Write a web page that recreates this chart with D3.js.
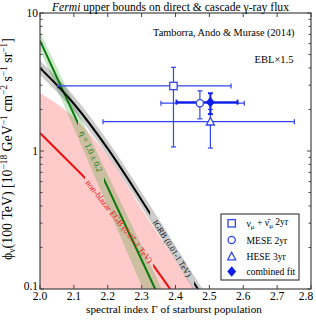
<!DOCTYPE html>
<html><head><meta charset="utf-8">
<script src="https://cdn.jsdelivr.net/npm/d3@7"></script>
<style>body{margin:0;background:#fff}svg{display:block}text{font-family:"Liberation Serif","Times New Roman",serif}</style>
</head><body><svg id="c" width="316" height="320"></svg>
<script>
// ---- data ----
const xTicks = [2.0, 2.1, 2.2, 2.3, 2.4, 2.5, 2.6, 2.7, 2.8];
const xTickLabels = ["2.0","2.1","2.2","2.3","2.4","2.5","2.6","2.7","2.8"];
const yTicks = [0.1, 1, 10];
const yTickLabels = ["0.1", "1", "10"];

const igrbGamma = [2.0, 2.1, 2.2, 2.3, 2.4, 2.466, 2.5];
const igrbFlux  = [4.0, 2.2, 1.04, 0.44, 0.18, 0.1, 0.075];
const igrbHi    = [4.5, 2.5, 1.18, 0.50, 0.205, 0.113, 0.085];
const igrbLo    = [3.55, 1.95, 0.92, 0.39, 0.16, 0.088, 0.066];

const etaGamma = [2.0, 2.17, 2.34, 2.38];
const etaFlux  = [6.3, 0.78, 0.1, 0.061];
const etaHi    = [7.3, 0.96, 0.127, 0.078];
const etaLo    = [5.4, 0.585, 0.063, 0.038];

const egbGamma = [2.0, 2.08, 2.133, 2.25, 2.334, 2.384, 2.42];
const egbFlux  = [1.35, 0.86, 0.637, 0.29, 0.149, 0.1, 0.074];

const pinkGamma = [2.0, 2.1, 2.2, 2.3, 2.4, 2.455, 2.5];
const pinkHi    = [2.63, 1.75, 0.92, 0.38, 0.16, 0.1, 0.07];

const pointNames    = ["numu", "MESE", "HESE", "combined"];
const pointGamma    = [2.394, 2.472, 2.503, 2.503];
const pointGammaLo  = [2.052, 2.357, 2.186, 2.403];
const pointGammaHi  = [2.564, 2.603, 2.751, 2.583];
const pointFlux     = [2.96, 2.22, 1.63, 2.26];
const pointFluxLo   = [1.07, 1.71, 1.05, 1.85];
const pointFluxHi   = [4.04, 2.73, 2.0, 2.62];

// ---- layout ----
const L = 40, R = 311, T = 13, B = 289;
const svg = d3.select("#c");
const x = d3.scaleLinear().domain([2.0, 2.8]).range([L, R]);
const y = d3.scaleLog().domain([0.1, 10]).range([B, T]);

const defs = svg.append("defs");
defs.append("clipPath").attr("id","plot").append("rect").attr("x",L).attr("y",T).attr("width",R-L).attr("height",B-T);
function gapClip(id, g0, g1){
  const cp = defs.append("clipPath").attr("id", id);
  cp.append("rect").attr("x",L).attr("y",T).attr("width",x(g0)-L).attr("height",B-T);
  cp.append("rect").attr("x",x(g1)).attr("y",T).attr("width",R-x(g1)).attr("height",B-T);
}
gapClip("gapEgb", 2.133, 2.334);
gapClip("gapEta", 2.112, 2.189);
gapClip("gapIgrb", 2.325, 2.455);

const P = svg.append("g").attr("clip-path","url(#plot)");
const curve = d3.curveMonotoneX;

// pink region
P.append("path")
 .datum(pinkGamma.map((g,i)=>[g,pinkHi[i]]))
 .attr("d", d3.area().x(d=>x(d[0])).y0(B+5).y1(d=>y(d[1])).curve(curve))
 .attr("fill","#ffcaca");

// green band
P.append("path")
 .datum(etaGamma.map((g,i)=>[g,etaLo[i],etaHi[i]]))
 .attr("d", d3.area().x(d=>x(d[0])).y0(d=>y(d[1])).y1(d=>y(d[2])).curve(curve))
 .attr("fill","rgba(20,150,20,0.22)");

// gray band
P.append("path")
 .datum(igrbGamma.map((g,i)=>[g,igrbLo[i],igrbHi[i]]))
 .attr("d", d3.area().x(d=>x(d[0])).y0(d=>y(d[1])).y1(d=>y(d[2])).curve(curve))
 .attr("fill","rgba(0,0,0,0.2)");

const line = d3.line().x(d=>x(d[0])).y(d=>y(d[1])).curve(curve);
P.append("g").attr("clip-path","url(#gapEgb)").append("path")
 .datum(egbGamma.map((g,i)=>[g,egbFlux[i]])).attr("d",line)
 .attr("fill","none").attr("stroke","#ee1111").attr("stroke-width",2);
P.append("g").attr("clip-path","url(#gapEta)").append("path")
 .datum(etaGamma.map((g,i)=>[g,etaFlux[i]])).attr("d",line)
 .attr("fill","none").attr("stroke","#0a7a0a").attr("stroke-width",2);
P.append("g").attr("clip-path","url(#gapIgrb)").append("path")
 .datum(igrbGamma.map((g,i)=>[g,igrbFlux[i]])).attr("d",line)
 .attr("fill","none").attr("stroke","#000").attr("stroke-width",2);

// labels along lines
function lineLabel(txt, gs, fs, g0, g1, color, size, dy){
  const interp = g => { // log-linear between data points for label placement
    const i = Math.max(0, d3.bisectRight(gs, g)-1);
    const j = Math.min(gs.length-1, i+1);
    const t = (g-gs[i])/(gs[j]-gs[i]);
    return Math.exp(Math.log(fs[i])*(1-t)+Math.log(fs[j])*t);
  };
  const x0=x(g0), y0=y(interp(g0)), x1=x(g1), y1=y(interp(g1));
  const ang = Math.atan2(y1-y0, x1-x0)*180/Math.PI;
  svg.append("text").attr("transform",`translate(${(x0+x1)/2},${(y0+y1)/2}) rotate(${ang})`)
    .attr("text-anchor","middle").attr("dy",dy).attr("font-size",size).attr("fill",color).text(txt);
}
lineLabel("non-blazar EGB (0.05-1 TeV)", egbGamma, egbFlux, 2.133, 2.334, "#ee1111", 8.6, "0.33em");
lineLabel("η = 1.0 ± 0.2", etaGamma, etaFlux, 2.112, 2.189, "#0a7a0a", 8.6, "0.33em");
lineLabel("IGRB (0.01-1 TeV)", igrbGamma, igrbFlux, 2.325, 2.455, "#111", 8.4, "0.33em");

// data points
const blue = "#2f45f0";
const pts = svg.append("g");
pointNames.forEach((n,i)=>{
  const cx = x(pointGamma[i]), cy = y(pointFlux[i]);
  const w = n==="combined" ? 2 : 1.2;
  const col = n==="combined" ? "#1020e8" : blue;
  const cap = 2.5;
  const g = pts.append("g").attr("stroke",col).attr("stroke-width",w);
  g.append("line").attr("x1",x(pointGammaLo[i])).attr("x2",x(pointGammaHi[i])).attr("y1",cy).attr("y2",cy);
  g.append("line").attr("x1",cx).attr("x2",cx).attr("y1",y(pointFluxLo[i])).attr("y2",y(pointFluxHi[i]));
  [x(pointGammaLo[i]), x(pointGammaHi[i])].forEach(xx=>g.append("line").attr("x1",xx).attr("x2",xx).attr("y1",cy-cap).attr("y2",cy+cap));
  [y(pointFluxLo[i]), y(pointFluxHi[i])].forEach(yy=>g.append("line").attr("x1",cx-cap).attr("x2",cx+cap).attr("y1",yy).attr("y2",yy));
});
function marker(g, n, cx, cy){
  const s = g.append("g").attr("stroke",blue).attr("stroke-width",1.3);
  if(n==="numu") s.append("rect").attr("x",cx-3.7).attr("y",cy-3.7).attr("width",7.4).attr("height",7.4).attr("fill","#fff");
  if(n==="MESE") s.append("circle").attr("cx",cx).attr("cy",cy).attr("r",3.6).attr("fill","#fff");
  if(n==="HESE") s.append("path").attr("d",`M${cx},${cy-4.3}L${cx+4},${cy+3.3}L${cx-4},${cy+3.3}Z`).attr("fill","#fff");
  if(n==="combined") s.append("path").attr("d",`M${cx},${cy-4.3}L${cx+3.6},${cy}L${cx},${cy+4.3}L${cx-3.6},${cy}Z`).attr("fill","#1020e8").attr("stroke","#1020e8");
}
pointNames.forEach((n,i)=>marker(pts, n, x(pointGamma[i]), y(pointFlux[i])));

// frame & axes
svg.append("rect").attr("x",L).attr("y",T).attr("width",R-L).attr("height",B-T)
  .attr("fill","none").attr("stroke","#444").attr("stroke-width",1.2);
const minor = [];
[0.1,1].forEach(d=>{for(let k=2;k<=9;k++) minor.push(d*k);});
const ax = svg.append("g").attr("stroke","#444").attr("stroke-width",1);
xTicks.forEach(t=>{
  ax.append("line").attr("x1",x(t)).attr("x2",x(t)).attr("y1",B).attr("y2",B-4);
  ax.append("line").attr("x1",x(t)).attr("x2",x(t)).attr("y1",T).attr("y2",T+4);
});
yTicks.forEach(t=>{
  ax.append("line").attr("x1",L).attr("x2",L+4).attr("y1",y(t)).attr("y2",y(t));
  ax.append("line").attr("x1",R).attr("x2",R-4).attr("y1",y(t)).attr("y2",y(t));
});
minor.forEach(t=>{
  ax.append("line").attr("x1",L).attr("x2",L+2.5).attr("y1",y(t)).attr("y2",y(t));
  ax.append("line").attr("x1",R).attr("x2",R-2.5).attr("y1",y(t)).attr("y2",y(t));
});
xTicks.forEach((t,i)=>svg.append("text").attr("x",Math.min(x(t), 306)).attr("y",B+10.5).attr("text-anchor","middle")
  .attr("font-size",11.5).text(xTickLabels[i]));
yTicks.forEach((t,i)=>svg.append("text").attr("x",L-2).attr("y",y(t)+(t===0.1?1:4)).attr("text-anchor","end")
  .attr("font-size",11.5).text(yTickLabels[i]));

// titles
const tt = svg.append("text").attr("x",170.5).attr("y",10.5).attr("text-anchor","middle").attr("font-size",11.6);
tt.append("tspan").attr("font-style","italic").text("Fermi");
tt.append("tspan").text(" upper bounds on direct & cascade γ-ray flux");
svg.append("text").attr("x",294.5).attr("y",36).attr("text-anchor","end").attr("font-size",10.3).text("Tamborra, Ando & Murase (2014)");
svg.append("text").attr("x",293.5).attr("y",63).attr("text-anchor","end").attr("font-size",10.5).text("EBL×1.5");
svg.append("text").attr("x",174).attr("y",313).attr("text-anchor","middle").attr("font-size",11.2).text("spectral index Γ of starburst population");

// y-axis label: sized so it spans ~220 px like the reference
function buildYLabel(fs){
  svg.selectAll(".ylab").remove();
  const yl = svg.append("text").attr("class","ylab")
    .attr("transform","translate(12,149) rotate(-90)").attr("text-anchor","middle").attr("font-size",fs);
  const ss = fs*0.68, up = fs*0.38;
  const add = (t, size, dy) => { const s = yl.append("tspan").attr("font-size", size).text(t); if (dy) s.attr("dy", dy); };
  add("ϕ", fs, 0);
  add("ν", ss, fs*0.25);
  add("(100 TeV) [10", fs, -fs*0.25);
  [["−18"," GeV"],["−1"," cm"],["−2"," s"],["−1"," sr"],["−1","]"]].forEach(([s,t])=>{
    add(s, ss, -up); add(t, fs, up);
  });
  return yl;
}
let yl = buildYLabel(10);
const len = yl.node().getComputedTextLength();
yl = buildYLabel(10 * 222 / len);

// legend
const lg = svg.append("g");
lg.append("rect").attr("x",221).attr("y",214).attr("width",78).attr("height",66).attr("fill","#fff").attr("stroke","#444").attr("stroke-width",1.2);
const legY = [223.3, 240, 256.5, 271.5];
pointNames.forEach((n,i)=>marker(lg, n, 231.7, legY[i]));
const lt = i => lg.append("text").attr("x",246.5).attr("y",legY[i]+3.5).attr("font-size",9.6);
const t0 = lt(0);
t0.append("tspan").text("ν");
t0.append("tspan").attr("dy","0.3em").attr("font-size",7).text("μ");
t0.append("tspan").attr("dy","-0.3em").text(" + ν̄");
t0.append("tspan").attr("dy","0.3em").attr("font-size",7).text("μ");
t0.append("tspan").attr("dy","-0.3em").text(" 2yr");
lt(1).text("MESE 2yr");
lt(2).text("HESE 3yr");
lt(3).text("combined fit");
</script></body></html>
